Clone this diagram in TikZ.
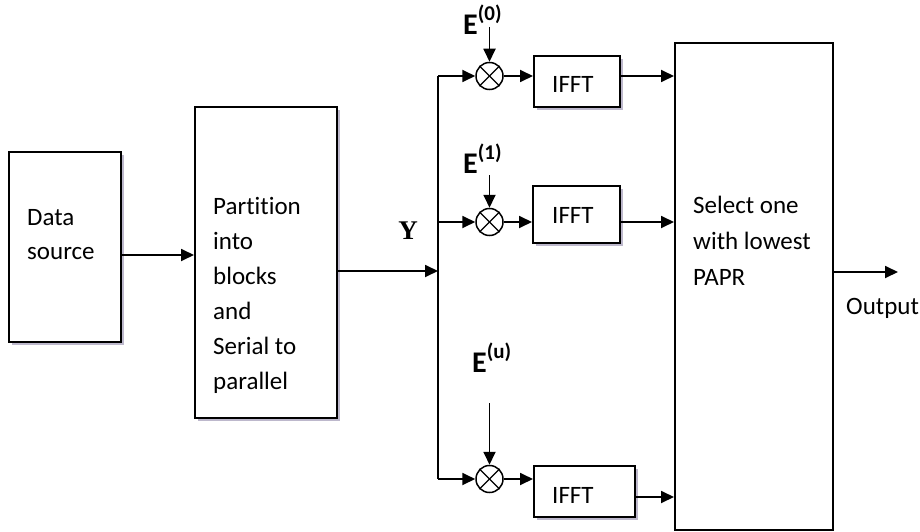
\documentclass[tikz,border=0pt]{standalone}
\usepackage{fontspec}
\setmainfont[Ligatures={NoCommon}]{Carlito}
\newfontfamily\yfont{Liberation Serif}
\usetikzlibrary{arrows.meta,shadows}
\definecolor{shad}{HTML}{BDB8CC}
\begin{document}
\begin{tikzpicture}[x=1pt,y=-1pt,
  box/.style={draw,line width=2pt,fill=white,inner sep=0pt,rectangle},
  sbox/.style={box,drop shadow={shadow xshift=3pt,shadow yshift=-3pt,fill=shad,opacity=1}},
  txt/.style={anchor=base west,inner sep=0pt,font=\fontsize{25}{35}\selectfont},
  arr/.style={line width=1.8pt,-{Triangle[length=13pt,width=12pt]}},
  ln/.style={line width=1.8pt},
  mult/.style={draw,circle,line width=1.5pt,minimum size=27pt,inner sep=0pt},
  elab/.style={anchor=base west,inner sep=0pt,font=\bfseries\fontsize{30}{30}\selectfont}
]
\useasboundingbox (0,0) rectangle (920,532);

% Data source
\node[sbox,minimum width=112pt,minimum height=190pt] (ds) at (65,247) {};
\node[txt] (ds1) at (27,225) {Data};
\node[txt] (ds2) at (27,259) {source};

% Partition
\node[sbox,minimum width=142pt,minimum height=311pt] (pt) at (266,262.5) {};
\node[txt] (pt1) at (213,214) {Partition};
\node[txt] (pt2) at (213,249) {into};
\node[txt] (pt3) at (213,284) {blocks};
\node[txt] (pt4) at (213,319) {and};
\node[txt] (pt5) at (213,354) {Serial to};
\node[txt] (pt6) at (213,389) {parallel};

% Select
\node[box,minimum width=158pt,minimum height=487pt] (sel) at (754,286.5) {};
\node[txt] (se1) at (693,213) {Select one};
\node[txt] (se2) at (693,249) {with lowest};
\node[txt] (se3) at (693,285) {PAPR};

% Multipliers
\node[mult] (m0) at (489.5,76) {};
\node[mult] (m1) at (489.5,222) {};
\node[mult] (m2) at (489.5,479) {};
\foreach \m in {m0,m1,m2}{
  \draw[line width=1.3pt] (\m.north west) -- (\m.south east);
  \draw[line width=1.3pt] (\m.north east) -- (\m.south west);
}

% IFFT boxes
\node[sbox,minimum width=86pt,minimum height=51pt] (i0) at (577,81.5) {};
\node[sbox,minimum width=87pt,minimum height=57pt] (i1) at (576.5,214.5) {};
\node[sbox,minimum width=101pt,minimum height=51pt] (i2) at (584.5,491.5) {};
\node[txt] (i0t) at (552,93) {IFFT};
\node[txt] (i1t) at (552,223) {IFFT};
\node[txt] (i2t) at (552,503) {IFFT};

% E labels
\node[elab] (e0) at (463,35) {E\raisebox{14pt}{\fontsize{21}{21}\selectfont(0)}};
\node[elab] (e1) at (463,173) {E\raisebox{14pt}{\fontsize{21}{21}\selectfont(1)}};
\node[elab] (e2) at (472,372) {E\raisebox{14pt}{\fontsize{21}{21}\selectfont(u)}};
\coordinate (e0s) at (489.5,27);
\coordinate (e1s) at (489.5,175);
\coordinate (e2s) at (489.5,403);
\draw[arr] (e0s) -- (m0.north);
\draw[arr] (e1s) -- (m1.north);
\draw[arr] (e2s) -- (m2.north);

% Y label
\node[inner sep=0pt,font=\yfont\bfseries\fontsize{27}{27}\selectfont] (ylab) at (408,231) {Y};

% Connectors
\coordinate (dsout) at (121,255);
\draw[arr] (dsout) -- (pt.west |- dsout);
\coordinate (yy) at (438,271);
\draw[arr] (pt.east |- yy) -- (yy);
\coordinate (b0) at (438,76);
\coordinate (b1) at (438,222);
\coordinate (b2) at (438,479);
\draw[ln] (b0) -- (b2);
\draw[arr] (b0) -- (m0.west);
\draw[arr] (b1) -- (m1.west);
\draw[arr] (b2) -- (m2.west);
\draw[arr] (m0.east) -- (i0.west |- m0);
\draw[arr] (m1.east) -- (i1.west |- m1);
\draw[arr] (m2.east) -- (i2.west |- m2);
\draw[arr] (i0.east |- m0) -- (sel.west |- m0);
\draw[arr] (i1.east |- m1) -- (sel.west |- m1);
\coordinate (o2) at (675,497);
\draw[arr] (i2.east |- o2) -- (sel.west |- o2);
\coordinate (out) at (898,272);
\draw[arr] (sel.east |- out) -- (out);
\node[txt] (outl) at (846,314) {Output};
\end{tikzpicture}
\end{document}
